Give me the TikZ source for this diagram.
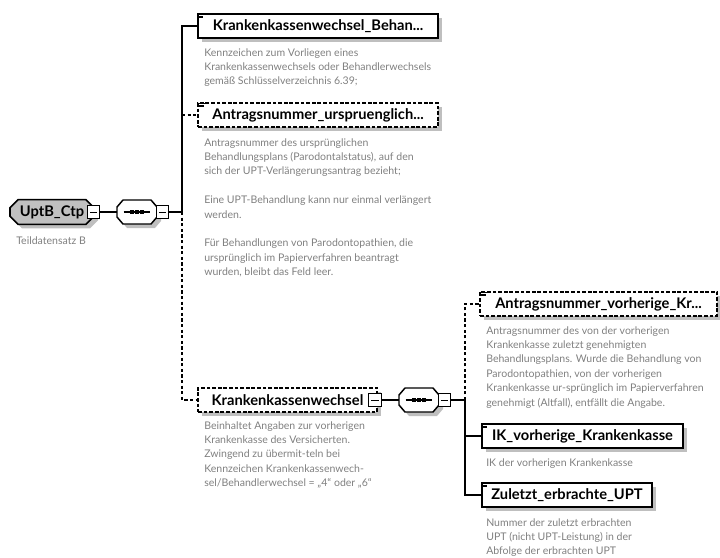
\documentclass[tikz,border=0pt]{standalone}
\usepackage{fontspec}
\setmainfont{Lato}
\usetikzlibrary{shapes.misc,shadows}

\tikzset{
  shade/.style={drop shadow={shadow xshift=3pt,shadow yshift=-3pt,fill=black!25,opacity=1}},
  elem/.style={draw=black,line width=1.2pt,fill=white,shade,minimum height=18pt,inner sep=0pt,
    font=\bfseries\fontsize{11}{12}\selectfont},
  optelem/.style={elem,line width=1pt,dash pattern=on 2.8pt off 1.4pt},
  desc/.style={anchor=north west,inner sep=0pt,align=left,text=textgray,
    font=\fontsize{7.9}{10.8}\selectfont},
  link/.style={line width=0.8pt},
  optlink/.style={link,dash pattern=on 2.4pt off 1.8pt},
  minusbox/.style={draw,fill=white,line width=0.7pt,minimum size=9.5pt,inner sep=0pt,
    path picture={\draw[line width=0.6pt] ([xshift=2pt]path picture bounding box.west)
      -- ([xshift=-2pt]path picture bounding box.east);}},
  seqbox/.style={minimum width=30pt,minimum height=18pt,inner sep=0pt,
    path picture={\draw[line width=0.9pt] ([xshift=5pt]path picture bounding box.west)
      -- ([xshift=-5pt]path picture bounding box.east);
      \foreach \d in {-3.6,0,3.6}
        \fill ([xshift=\d pt-1.3pt,yshift=-1.3pt]path picture bounding box.center) rectangle ++(2.6pt,2.6pt);}}
}
% octagon outline of a sequence compositor, centre in pixels
\newcommand\seqshape[2]{%
  \begin{scope}[shift={(#1,#2)}]
    \fill[black!25] (-14+4,-12+4) -- (14+4,-12+4) -- (20+4,-5+4) -- (20+4,5+4)
      -- (14+4,12+4) -- (-14+4,12+4) -- (-20+4,5+4) -- (-20+4,-5+4) -- cycle;
    \draw[fill=white,line width=1.1pt,line join=round] (-14,-12) -- (14,-12) -- (20,-5) -- (20,5)
      -- (14,12) -- (-14,12) -- (-20,5) -- (-20,-5) -- cycle;
  \end{scope}}
\newcommand\txticon[1]{%
  \draw[line width=0.5pt] ([xshift=1.5pt,yshift=-0.8pt]#1.north west) -- ++(4pt,0)
    ([xshift=1.5pt,yshift=-2pt]#1.north west) -- ++(3.2pt,0)
    ([xshift=1.5pt,yshift=-3.2pt]#1.north west) -- ++(3.2pt,0);}

\begin{document}
\begin{tikzpicture}[x=0.75pt,y=-0.75pt]
\definecolor{textgray}{HTML}{808080}
\definecolor{rootgray}{HTML}{C0C0C0}
\useasboundingbox (0,0) rectangle (720,557);

% root element and its sequence
\node[elem,chamfered rectangle,chamfered rectangle xsep=3pt,chamfered rectangle ysep=3pt,
  fill=rootgray,minimum width=63pt,minimum height=18.5pt] (root) at (52,212) {UptB\_Ctp\hspace{9pt}};
\node[minusbox] (rootm) at (93.5,212) {};
\node[desc] (rootdesc) at (16,236) {Teildatensatz B};
\seqshape{137}{212}
\node[seqbox] (seqa) at (137,212) {};
\node[minusbox] (seqam) at (162.5,212) {};

% children of UptB_Ctp
\node[elem,minimum width=180pt] (kkw) at (318,26) {Krankenkassenwechsel\_Behan...};
\txticon{kkw}
\node[desc] (kkwdesc) at (204,48) {Kennzeichen zum Vorliegen eines\\
Krankenkassenwechsels oder Behandlerwechsels\\
gemäß Schlüsselverzeichnis 6.39;};

\node[optelem,minimum width=180pt] (antr) at (318,115) {Antragsnummer\_urspruenglich...};
\txticon{antr}
\node[desc] (antrdesc) at (204,138) {Antragsnummer des ursprünglichen\\
Behandlungsplans (Parodontalstatus), auf den\\
sich der UPT-Verlängerungsantrag bezieht;\\[10.8pt]
Eine UPT-Behandlung kann nur einmal verlängert\\
werden.\\[10.8pt]
Für Behandlungen von Parodontopathien, die\\
ursprünglich im Papierverfahren beantragt\\
wurden, bleibt das Feld leer.};

\node[optelem,minimum width=134.25pt] (kk) at (287.5,400) {Krankenkassenwechsel\hspace{12pt}};
\node[minusbox] (kkm) at (375,400) {};
\node[desc] (kkdesc) at (204,421) {Beinhaltet Angaben zur vorherigen\\
Krankenkasse des Versicherten.\\
Zwingend zu übermit-teln bei\\
Kennzeichen Krankenkassenwech-\\
sel/Behandlerwechsel = „4“ oder „6“};
\seqshape{419}{400}
\node[seqbox] (seqb) at (419,400) {};
\node[minusbox] (seqbm) at (444.5,400) {};

% children of Krankenkassenwechsel
\node[optelem,minimum width=177.75pt] (antv) at (598.5,304) {Antragsnummer\_vorherige\_Kr...};
\txticon{antv}
\node[desc] (antvdesc) at (486,326) {Antragsnummer des von der vorherigen\\
Krankenkasse zuletzt genehmigten\\
Behandlungsplans. Wurde die Behandlung von\\
Parodontopathien, von der vorherigen\\
Krankenkasse ur-sprünglich im Papierverfahren\\
genehmigt (Altfall), entfällt die Angabe.};

\node[elem,minimum width=150.75pt] (ik) at (582.5,436) {IK\_vorherige\_Krankenkasse};
\txticon{ik}
\node[desc] (ikdesc) at (486,458) {IK der vorherigen Krankenkasse};

\node[elem,minimum width=127.5pt] (zul) at (567,495) {Zuletzt\_erbrachte\_UPT};
\txticon{zul}
\node[desc] (zuldesc) at (486,518) {Nummer der zuletzt erbrachten\\
UPT (nicht UPT-Leistung) in der\\
Abfolge der erbrachten UPT};

% connectors
\coordinate (busa) at (182,212);
\coordinate (busb) at (465,400);
\draw[link] (rootm.east) -- (seqa.west);
\draw[link] (seqam.east) -- (busa);
\draw[link] (busa) |- (kkw.west);
\draw[optlink] (busa |- antr.west) -- (antr.west);
\draw[optlink] (busa) |- (kk.west);
\draw[link] (kkm.east) -- (seqb.west);
\draw[link] (seqbm.east) -- (busb);
\draw[optlink] (busb) |- (antv.west);
\draw[link] (busb |- ik.west) -- (ik.west);
\draw[link] (busb) |- (zul.west);
\end{tikzpicture}
\end{document}
